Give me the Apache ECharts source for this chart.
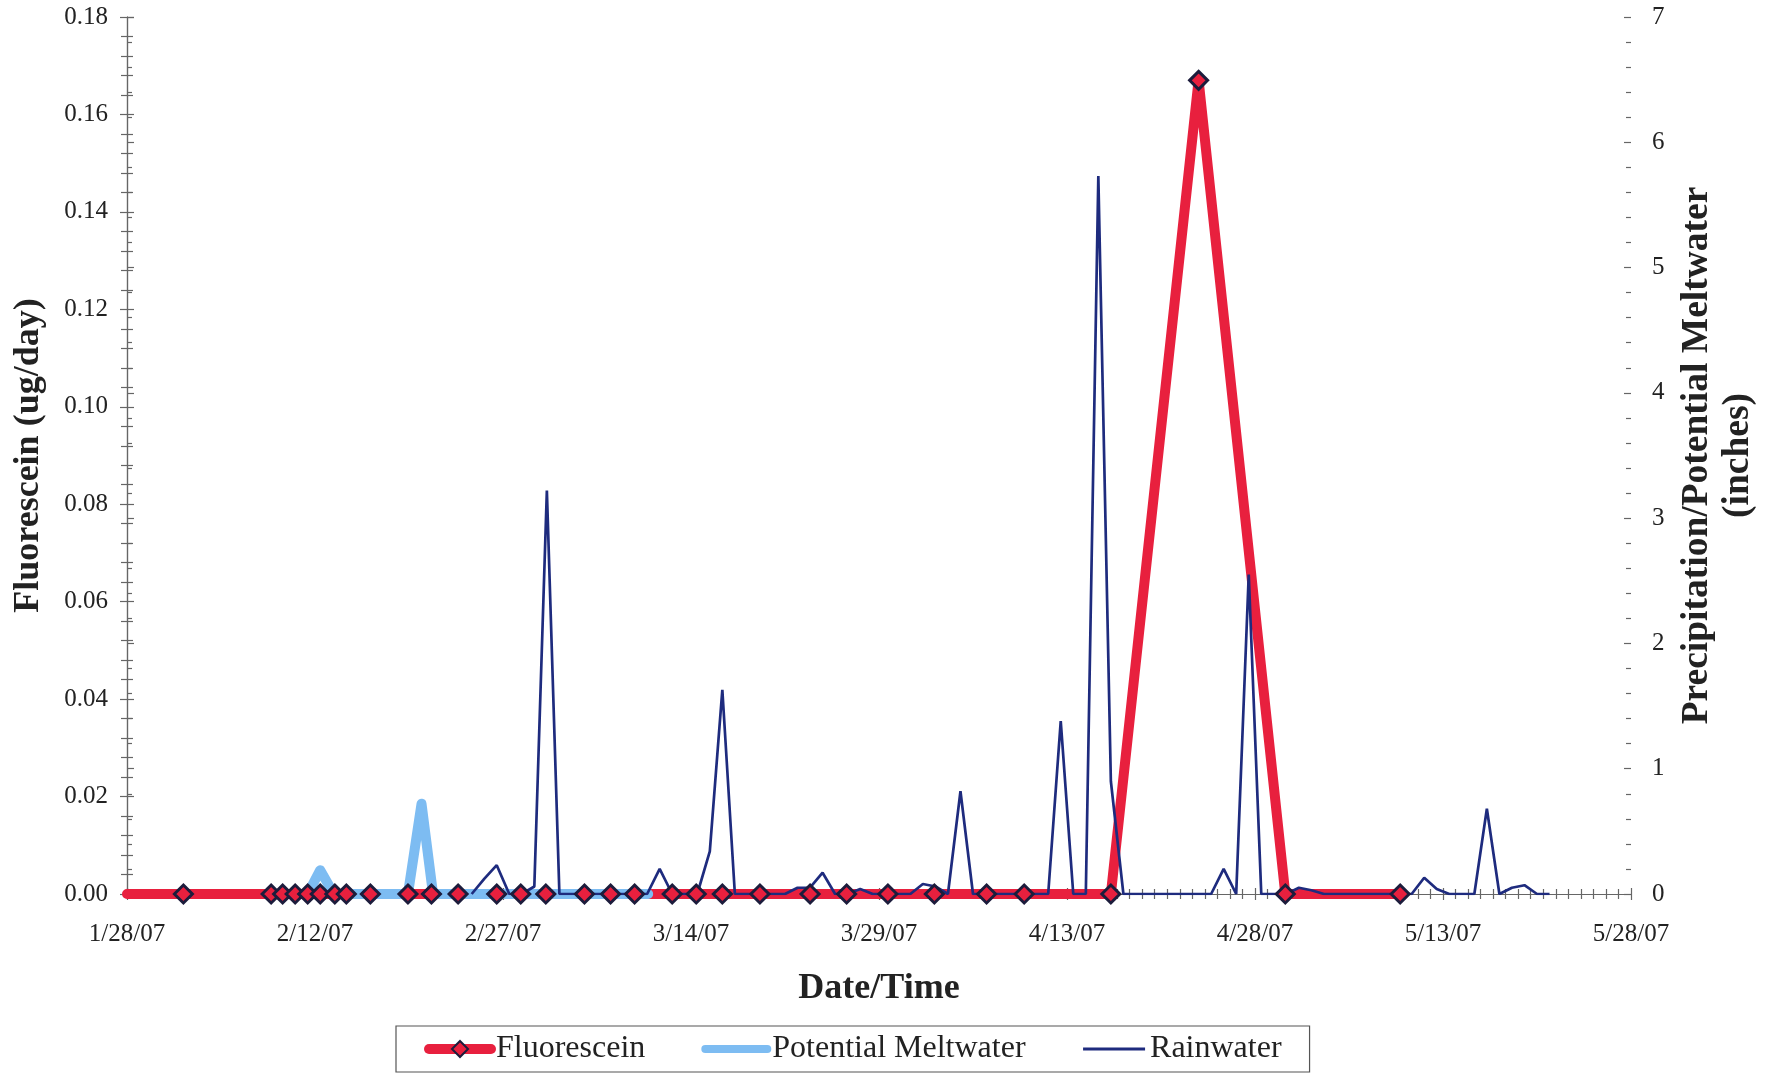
<!DOCTYPE html>
<html><head><meta charset="utf-8">
<script src="https://cdn.jsdelivr.net/npm/echarts@6/dist/echarts.min.js"></script>
<style>html,body{margin:0;padding:0;background:#fff}#c{width:1783px;height:1075px}</style>
</head><body><div id="c"></div>
<script>
// ---- data ----
const axisStart = '2007-01-28 00:00';
const xTickLabels = ['1/28/07','2/12/07','2/27/07','3/14/07','3/29/07','4/13/07','4/28/07','5/13/07','5/28/07'];
const leftTicks = [0, 0.18, 0.02];   // min, max, step (ug/day)
const rightTicks = [0, 7, 1];        // min, max, step (inches)

const fluorDates = ['2007-01-28 00:00','2007-02-01 12:00','2007-02-08 12:00','2007-02-09 10:00','2007-02-10 10:00',
  '2007-02-11 10:00','2007-02-12 10:00','2007-02-13 14:00','2007-02-14 12:00','2007-02-16 10:00',
  '2007-02-19 10:00','2007-02-21 07:00','2007-02-23 10:00','2007-02-26 12:00','2007-02-28 10:00',
  '2007-03-02 10:00','2007-03-05 12:00','2007-03-07 14:00','2007-03-09 12:00','2007-03-12 12:00',
  '2007-03-14 10:00','2007-03-16 12:00','2007-03-19 12:00','2007-03-23 12:00','2007-03-26 10:00',
  '2007-03-29 17:00','2007-04-02 10:00','2007-04-06 14:00','2007-04-09 14:00','2007-04-16 12:00',
  '2007-04-23 12:00','2007-04-30 10:00','2007-05-09 14:00'];
const fluorValues = [0,0,0,0,0, 0,0,0,0,0, 0,0,0,0,0, 0,0,0,0,0, 0,0,0,0,0, 0,0,0,0,0, 0.167,0,0];

const meltDates = ['2007-02-11 10:00','2007-02-12 10:00','2007-02-13 12:00','2007-02-19 10:00',
  '2007-02-20 12:00','2007-02-21 10:00','2007-03-10 14:00'];
const meltValues = [0, 0.19, 0, 0, 0.72, 0, 0];

// daily rainfall, first value on 2/24/07
const rainStart = '2007-02-24 12:00';
const rainValues = [
  0, 0.12, 0.23, 0, 0, 0.06, 3.22, 0, 0, 0,
  0, 0, 0, 0, 0, 0.20, 0, 0, 0, 0.34,
  1.63, 0, 0, 0, 0, 0, 0.05, 0.05, 0.17, 0,
  0, 0.04, 0, 0, 0, 0, 0.08, 0.06, 0, 0.82,
  0, 0, 0, 0, 0, 0, 0, 1.38, 0, 0,
  5.73, 0.90, 0, 0, 0, 0, 0, 0, 0, 0,
  0.20, 0, 2.55, 0, 0, 0, 0.05, 0.03, 0, 0,
  0, 0, 0, 0, 0, 0, 0.13, 0.04, 0, 0,
  0, 0.68, 0, 0.05, 0.07, 0, 0];

// ---- helpers ----
function toMs(s){
  const [d,t] = s.split(' ');
  const [Y,M,D] = d.split('-').map(Number);
  const [h,m] = (t||'00:00').split(':').map(Number);
  return Date.UTC(Y, M-1, D, h, m);
}
const t0 = toMs(axisStart);
const dayOf = s => (toMs(s) - t0) / 86400000;
const rain0 = dayOf(rainStart);

const fluorData = fluorDates.map((d,i) => [dayOf(d), fluorValues[i]]);
const meltData = meltDates.map((d,i) => [dayOf(d), meltValues[i]]);
const rainData = rainValues.map((v,i) => [rain0 + i, v]);

const FONT = '"Liberation Serif","Times New Roman",serif';
const AX = '#666';
const RED = '#E8203E', BLUE = '#7DBCF2', NAVY = '#1E2B7E', EDGE = '#1c1c3c';
const RED_W = 10, BLUE_W = 10, NAVY_W = 2.7;

const chart = echarts.init(document.getElementById('c'), null, {renderer:'canvas'});
const tickStyle = {color: AX, width: 1.2};
const xMax = (xTickLabels.length - 1) * 15;

chart.setOption({
  backgroundColor: '#fff',
  animation: false,
  grid: {left: 127, right: 152, top: 17, bottom: 181, containLabel: false},
  legend: {
    left: 396, top: 1026,
    selectedMode: false,
    data: [
      {name: 'Fluorescein', lineStyle: {width: RED_W, cap: 'round'}},
      {name: 'Potential Meltwater', itemStyle: {opacity: 0}, lineStyle: {width: 8, cap: 'round'}},
      {name: 'Rainwater', itemStyle: {opacity: 0}, lineStyle: {width: 3}}
    ],
    itemWidth: 62, itemHeight: 20, itemGap: 56,
    padding: [7, 28, 7, 28],
    borderColor: '#555', borderWidth: 1.2,
    textStyle: {fontFamily: FONT, fontSize: 32, color: '#222'}
  },
  xAxis: [{
    type: 'value', min: 0, max: xMax, interval: 15, position: 'bottom',
    name: 'Date/Time', nameLocation: 'middle', nameGap: 77,
    nameTextStyle: {fontFamily: FONT, fontSize: 36, fontWeight: 'bold', color: '#222'},
    axisLine: {lineStyle: {color: AX, width: 1.2}},
    axisTick: {show: true, length: 6, lineStyle: tickStyle},
    minorTick: {show: true, splitNumber: 15, length: 5, lineStyle: tickStyle},
    splitLine: {show: false},
    axisLabel: {margin: 28, fontFamily: FONT, fontSize: 25, color: '#222',
      formatter: v => xTickLabels[Math.round(v/15)]}
  }, {
    type: 'value', min: 0, max: xMax, interval: 15, position: 'bottom',
    axisLine: {show: false},
    axisTick: {show: true, inside: true, length: 6, lineStyle: tickStyle},
    minorTick: {show: true, splitNumber: 15, length: 5, lineStyle: tickStyle},
    splitLine: {show: false}, axisLabel: {show: false}
  }],
  yAxis: [{
    type: 'value', position: 'left', min: leftTicks[0], max: leftTicks[1], interval: leftTicks[2],
    name: 'Fluorescein (ug/day)', nameLocation: 'middle', nameGap: 80, nameRotate: 90,
    nameTextStyle: {fontFamily: FONT, fontSize: 36, fontWeight: 'bold', color: '#222'},
    axisLine: {show: true, lineStyle: {color: AX, width: 1.2}},
    axisTick: {show: true, length: 7, lineStyle: tickStyle},
    minorTick: {show: true, splitNumber: 5, length: 6, lineStyle: tickStyle},
    splitLine: {show: false},
    axisLabel: {margin: 19, fontFamily: FONT, fontSize: 25, color: '#222', formatter: v => v.toFixed(2)}
  }, {
    type: 'value', position: 'right', min: rightTicks[0], max: rightTicks[1], interval: rightTicks[2],
    name: 'Precipitation/Potential Meltwater\n(inches)', nameLocation: 'middle', nameGap: 46, nameRotate: 90,
    nameTextStyle: {fontFamily: FONT, fontSize: 37.5, fontWeight: 'bold', color: '#222', lineHeight: 41},
    axisLine: {show: true, lineStyle: {color: AX, width: 1.2}},
    axisTick: {show: true, length: 7, lineStyle: tickStyle},
    minorTick: {show: true, splitNumber: 5, length: 5, lineStyle: tickStyle},
    splitLine: {show: false},
    axisLabel: {margin: 21, fontFamily: FONT, fontSize: 25, color: '#222'}
  }, {
    type: 'value', position: 'left', min: leftTicks[0], max: leftTicks[1], interval: leftTicks[2],
    axisLine: {show: false},
    axisTick: {show: true, inside: true, length: 7, lineStyle: tickStyle},
    minorTick: {show: true, splitNumber: 5, length: 6, lineStyle: tickStyle},
    splitLine: {show: false}, axisLabel: {show: false}
  }, {
    type: 'value', position: 'right', min: rightTicks[0], max: rightTicks[1], interval: rightTicks[2],
    axisLine: {show: false},
    axisTick: {show: true, inside: true, length: 7, lineStyle: tickStyle},
    minorTick: {show: true, splitNumber: 5, length: 5, lineStyle: tickStyle},
    splitLine: {show: false}, axisLabel: {show: false}
  }],
  series: [{
    name: 'Fluorescein', type: 'line', xAxisIndex: 0, yAxisIndex: 0, z: 2,
    data: fluorData, clip: false,
    symbol: 'diamond', symbolSize: 18, showSymbol: false,
    lineStyle: {color: RED, width: RED_W, cap: 'round', join: 'round'},
    itemStyle: {color: RED, borderColor: EDGE, borderWidth: 3}
  }, {
    name: 'Potential Meltwater', type: 'line', xAxisIndex: 0, yAxisIndex: 1, z: 3,
    data: meltData, symbol: 'none',
    lineStyle: {color: BLUE, width: BLUE_W, cap: 'round', join: 'round'},
    itemStyle: {color: BLUE}
  }, {
    name: 'Rainwater', type: 'line', xAxisIndex: 0, yAxisIndex: 1, z: 4,
    data: rainData, symbol: 'none',
    lineStyle: {color: NAVY, width: NAVY_W},
    itemStyle: {color: NAVY}
  }, {
    name: 'FluoresceinMarkers', type: 'scatter', xAxisIndex: 0, yAxisIndex: 0, z: 5,
    data: fluorData.slice(1), symbol: 'diamond', symbolSize: 18,
    itemStyle: {color: RED, borderColor: EDGE, borderWidth: 3, opacity: 1}
  }]
});
</script></body></html>
